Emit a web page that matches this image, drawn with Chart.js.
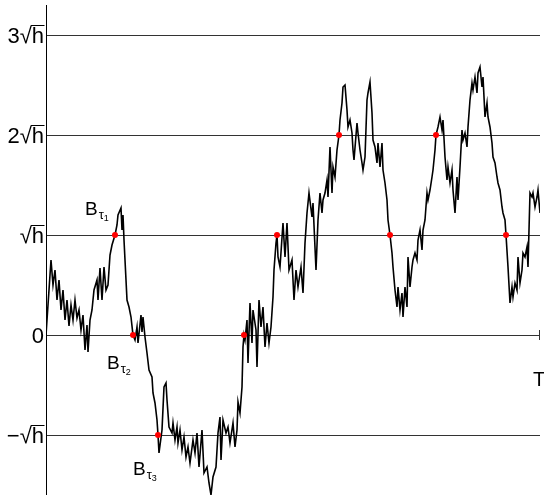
<!DOCTYPE html>
<html>
<head>
<meta charset="utf-8">
<script src="https://cdn.jsdelivr.net/npm/chart.js@4.4.1/dist/chart.umd.min.js"></script>
<style>
html, body { margin: 0; padding: 0; background: #fff; }
#wrap { width: 544px; height: 500px; }
</style>
</head>
<body>
<div id="wrap"><canvas id="grafico"></canvas></div>
<script>
// random walk B_t, time in steps (T = N), values in units of sqrt(h)
const N = 494;
const steps = [
    0, 5, 7, 9, 11, 13, 15, 17, 19, 21,
    23, 25, 27, 29, 31, 33, 35, 37, 39, 41,
    42, 44, 46, 48, 51, 52, 54, 56, 58, 60,
    62, 64, 66, 69, 71, 72, 75, 76, 77, 78,
    80, 81, 83, 85, 87, 89, 91, 92, 95, 96,
    97, 99, 101, 103, 106, 107, 109, 111, 112, 113,
    116, 118, 120, 121, 123, 126, 127, 129, 131, 132,
    134, 136, 138, 140, 142, 144, 147, 149, 151, 153,
    156, 158, 161, 163, 165, 167, 170, 172, 174, 175,
    177, 180, 182, 184, 187, 189, 191, 192, 194, 196,
    197, 198, 199, 201, 202, 204, 206, 207, 210, 211,
    213, 215, 217, 219, 221, 223, 225, 227, 228, 230,
    231, 232, 234, 237, 239, 241, 243, 246, 248, 250,
    252, 255, 257, 259, 261, 263, 266, 267, 270, 272,
    274, 276, 277, 279, 281, 282, 284, 286, 287, 289,
    291, 293, 294, 296, 297, 299, 301, 302, 304, 306,
    307, 308, 311, 312, 314, 316, 317, 319, 321, 322,
    324, 326, 327, 329, 331, 332, 334, 336, 337, 339,
    341, 342, 344, 346, 347, 349, 351, 352, 354, 356,
    357, 359, 361, 362, 364, 366, 367, 369, 371, 372,
    374, 376, 377, 379, 381, 382, 384, 386, 387, 389,
    390, 392, 394, 396, 397, 399, 401, 402, 404, 406,
    407, 409, 411, 412, 414, 416, 417, 419, 421, 422,
    424, 426, 427, 429, 431, 432, 434, 436, 437, 439,
    441, 442, 444, 446, 447, 449, 451, 452, 454, 456,
    457, 459, 460, 462, 464, 466, 467, 469, 471, 472,
    474, 476, 477, 479, 481, 482, 484, 486, 487, 489,
    491, 492, 494
];
const walk = [
    0, 0.75, 0.50, 0.65, 0.35, 0.55, 0.25, 0.45, 0.15, 0.35,
    0.09, 0.30, 0.15, 0.35, 0.17, 0.25, 0.05, 0.20, -0.15, 0.10,
    -0.17, 0.15, 0.25, 0.45, 0.55, 0.35, 0.67, 0.35, 0.68, 0.45,
    0.50, 0.80, 0.90, 1.00, 1.10, 1.20, 1.27, 1.05, 1.20, 0.95,
    0.55, 0.35, 0.28, 0.18, 0, -0.05, 0.08, -0.08, 0.20, 0.03,
    0.18, -0.02, -0.18, -0.35, -0.42, -0.58, -0.68, -0.85, -1.00, -1.18,
    -0.95, -0.52, -0.48, -0.65, -0.92, -0.98, -0.88, -1.05, -0.92, -1.08,
    -0.95, -1.15, -1.02, -1.22, -1.12, -1.28, -1.05, -1.18, -0.98, -1.32,
    -0.95, -1.38, -1.32, -1.48, -1.60, -1.42, -1.32, -0.98, -0.82, -1.25,
    -0.85, -0.98, -0.92, -1.08, -0.88, -1.12, -0.95, -0.67, -0.78, -0.52,
    -0.12, 0, -0.05, 0.15, -0.28, 0.32, -0.08, 0.25, 0.05, -0.32,
    0.35, 0.08, 0.28, -0.12, 0.12, -0.08, 0.08, 0.38, 0.65, 0.92,
    1.00, 0.78, 0.68, 1.12, 0.78, 1.12, 0.65, 0.75, 0.35, 0.65,
    0.48, 0.68, 0.42, 0.92, 1.22, 1.42, 1.18, 1.32, 0.65, 1.15,
    1.42, 1.22, 1.35, 1.42, 1.55, 1.38, 1.88, 1.42, 1.68, 1.58,
    1.85, 2.00, 2.15, 2.32, 2.48, 2.50, 2.25, 2.08, 2.15, 2.02,
    1.85, 1.75, 2.12, 2.02, 1.85, 1.72, 1.65, 1.78, 2.35, 2.42,
    2.53, 2.22, 1.95, 1.88, 1.72, 1.92, 1.68, 1.92, 1.65, 1.52,
    1.35, 1.15, 1.00, 0.82, 0.68, 0.45, 0.28, 0.48, 0.25, 0.42,
    0.18, 0.48, 0.28, 0.78, 0.48, 0.68, 0.75, 0.82, 0.75, 0.95,
    1.05, 0.85, 1.05, 1.15, 1.42, 1.35, 1.45, 1.58, 1.65, 1.85,
    2.00, 2.08, 2.18, 2.05, 2.15, 1.78, 1.55, 1.68, 1.52, 1.65,
    1.45, 1.22, 1.58, 1.35, 1.68, 2.05, 1.95, 2.02, 1.88, 2.08,
    2.35, 2.52, 2.45, 2.58, 2.42, 2.62, 2.68, 2.48, 2.58, 2.18,
    2.32, 2.18, 2.08, 1.92, 1.78, 1.72, 1.58, 1.52, 1.45, 1.28,
    1.22, 1.15, 1.00, 0.68, 0.32, 0.48, 0.38, 0.52, 0.45, 0.78,
    0.52, 0.65, 0.82, 0.78, 0.88, 0.68, 1.42, 1.38, 1.42, 1.28,
    1.38, 1.45, 1.22
];

// hitting times tau_k and the level reached
const hitSteps = [69, 87, 112, 198, 231, 293, 344, 390, 460];
const hitLevels = [1, 0, -1, 0, 1, 2, 1, 2, 1];

// horizontal levels and their labels
const levelValues = [-1, 0, 1, 2, 3];
const levelLabels = ["\u2212\u221Ah", "0", "\u221Ah", "2\u221Ah", "3\u221Ah"];

const tauNames = ["1", "2", "3"];
const timeLabel = "T";

const FONT = '"Liberation Sans", Arial, sans-serif';

// linhas, eixo e textos
const decor = {
    id: "decor",
    beforeDatasetsDraw(chart) {
        const { ctx, chartArea: a, scales: { y } } = chart;
        ctx.save();
        ctx.strokeStyle = "#333";
        ctx.lineWidth = 1;
        levelValues.forEach(v => {
            const py = Math.round(y.getPixelForValue(v)) + 0.5;
            ctx.beginPath();
            ctx.moveTo(a.left, py);
            ctx.lineTo(a.right, py);
            ctx.stroke();
        });
        // eixo vertical
        ctx.strokeStyle = "#000";
        ctx.beginPath();
        ctx.moveTo(a.left + 0.5, a.top);
        ctx.lineTo(a.left + 0.5, a.bottom);
        ctx.stroke();
        // marca em T
        const y0 = Math.round(y.getPixelForValue(0));
        ctx.strokeStyle = "#333";
        ctx.beginPath();
        ctx.moveTo(a.right - 0.5, y0 - 5);
        ctx.lineTo(a.right - 0.5, y0 + 5);
        ctx.stroke();
        ctx.restore();
    },
    afterDatasetsDraw(chart) {
        const { ctx, chartArea: a, scales: { x, y } } = chart;
        ctx.save();
        ctx.fillStyle = "#000";
        ctx.strokeStyle = "#000";
        ctx.lineWidth = 1;
        ctx.font = "22px " + FONT;
        ctx.textBaseline = "alphabetic";

        // rótulos do eixo y
        ctx.textAlign = "right";
        const xr = a.left - 2;
        const hW = ctx.measureText("h").width;
        levelValues.forEach((v, i) => {
            const py = Math.round(y.getPixelForValue(v));
            const txt = levelLabels[i];
            ctx.fillText(txt, xr, py + 8);
            if (txt.indexOf("\u221A") >= 0) {
                ctx.beginPath();
                ctx.moveTo(xr - hW - 1, py - 9.5);
                ctx.lineTo(xr + 0.5, py - 9.5);
                ctx.stroke();
            }
        });

        // B_tau
        const offs = [[-30, -20], [-26, 34], [-25, 40]];
        ctx.textAlign = "left";
        tauNames.forEach((n, i) => {
            const px = x.getPixelForValue(hitSteps[i]) + offs[i][0];
            const py = y.getPixelForValue(hitLevels[i]) + offs[i][1];
            ctx.font = "19px " + FONT;
            ctx.fillText("B", px, py);
            const bw = ctx.measureText("B").width;
            ctx.font = "13px " + FONT;
            ctx.fillText("\u03C4", px + bw + 1, py + 4);
            const tw = ctx.measureText("\u03C4").width;
            ctx.font = "9px " + FONT;
            ctx.fillText(n, px + bw + 1 + tw, py + 6);
        });

        // T
        ctx.font = "20px " + FONT;
        ctx.textAlign = "center";
        ctx.fillText(timeLabel, x.getPixelForValue(N) - 1, Math.round(y.getPixelForValue(0)) + 51);
        ctx.restore();
    }
};

const ctx = document.getElementById("grafico").getContext("2d");

new Chart(ctx, {
    type: "scatter",
    data: {
        datasets: [
            {
                label: "hits",
                data: hitSteps.map((s, i) => ({ x: s, y: hitLevels[i] })),
                pointRadius: 3,
                pointBackgroundColor: "#ff0000",
                pointBorderWidth: 0,
                showLine: false,
                order: 0
            },
            {
                label: "B",
                data: steps.map((s, i) => ({ x: s, y: walk[i] })),
                showLine: true,
                borderColor: "#000",
                borderWidth: 1.6,
                pointRadius: 0,
                tension: 0,
                order: 1
            }
        ]
    },
    options: {
        responsive: true,
        maintainAspectRatio: false,
        animation: false,
        layout: { padding: { left: 46, right: 4, top: 5, bottom: 5 } },
        scales: {
            x: { type: "linear", min: 0, max: N, display: false },
            y: { type: "linear", min: -1.6, max: 3.3, display: false }
        },
        plugins: {
            legend: { display: false },
            tooltip: { enabled: false }
        }
    },
    plugins: [decor]
});
</script>
</body>
</html>
